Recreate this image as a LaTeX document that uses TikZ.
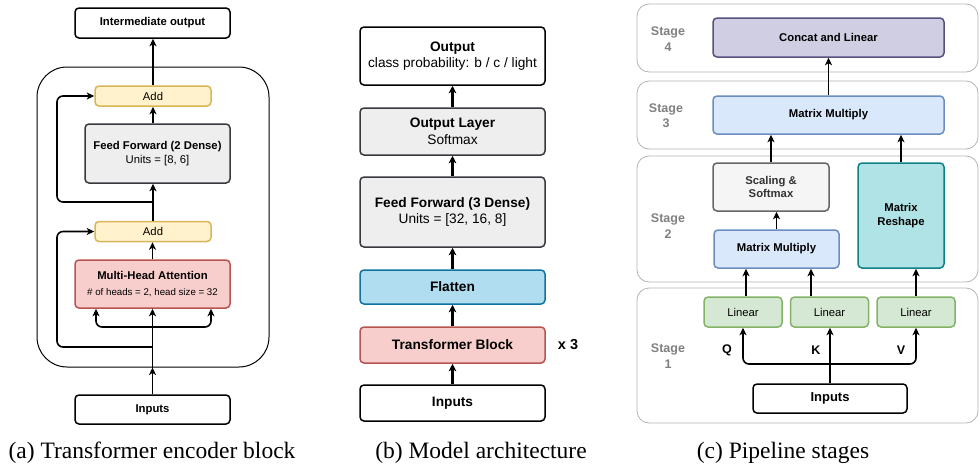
\documentclass[tikz,border=0pt]{standalone}
\usepackage{fontspec}
\setmainfont{Liberation Serif}
\setsansfont{Liberation Sans}
\usetikzlibrary{arrows.meta,calc}

\definecolor{addfill}{HTML}{FFF2CC}
\definecolor{adddraw}{HTML}{D6B656}
\definecolor{redfill}{HTML}{F8CECC}
\definecolor{reddraw}{HTML}{B85450}
\definecolor{grayfill}{HTML}{EEEEEE}
\definecolor{graydraw}{HTML}{36393D}
\definecolor{bluefill}{HTML}{B1DDF0}
\definecolor{bluedraw}{HTML}{10739E}
\definecolor{mmfill}{HTML}{DAE8FC}
\definecolor{mmdraw}{HTML}{6C8EBF}
\definecolor{purfill}{HTML}{D0CEE2}
\definecolor{purdraw}{HTML}{56517E}
\definecolor{softfill}{HTML}{F5F5F5}
\definecolor{softdraw}{HTML}{666666}
\definecolor{tealfill}{HTML}{B0E3E6}
\definecolor{tealdraw}{HTML}{0E8088}
\definecolor{linfill}{HTML}{D5E8D4}
\definecolor{lindraw}{HTML}{82B366}
\definecolor{stagedraw}{HTML}{B3B3B3}
\definecolor{stagetext}{HTML}{808080}

\tikzset{
  box/.style={draw, rounded corners=4pt, line width=1.5pt, align=center, inner sep=0pt},
  fa/.style={font=\sffamily\fontsize{11.3}{14.5}\selectfont},
  fb/.style={font=\sffamily\fontsize{13.7}{16.5}\selectfont},
  fc/.style={font=\sffamily\fontsize{11.3}{13.3}\selectfont},
  arr/.style={line width=1.6pt, -{Stealth[length=7.5pt,width=7pt,inset=2pt]}},
  arrb/.style={line width=2.2pt, -{Stealth[length=7.5pt,width=7.5pt,inset=2pt]}},
  stageband/.style={draw=stagedraw, line width=0.8pt, rounded corners=12pt, inner sep=0pt},
  stagelabel/.style={align=center, text=stagetext, font=\sffamily\bfseries\fontsize{12.5}{15.5}\selectfont},
  caption/.style={font=\rmfamily\fontsize{23.5}{26}\selectfont}
}

\begin{document}
\begin{tikzpicture}[x=1pt, y=-1pt]
    \useasboundingbox (0,0) rectangle (980,466);

    % (a) Transformer encoder block
    \node[draw, line width=1pt, rounded corners=30pt, minimum width=232, minimum height=300] (encA) at (153,217) {};
    \node[box, fa, fill=white, minimum width=155, minimum height=30] (outA) at (152.5,23) {\textbf{Intermediate output}};
    \node[box, fa, fill=addfill, draw=adddraw, minimum width=116, minimum height=20] (add2) at (153,96) {Add};
    \node[box, fa, fill=grayfill, draw=graydraw, minimum width=145, minimum height=59] (ffA) at (157.5,153.5) {\textbf{Feed Forward (2 Dense)}\\Units = [8, 6]};
    \node[box, fa, fill=addfill, draw=adddraw, minimum width=116, minimum height=20] (add1) at (153,231.5) {Add};
    \node[box, fa, fill=redfill, draw=reddraw, minimum width=155, minimum height=48] (mha) at (152.5,284) {\textbf{Multi-Head Attention}\\[1pt]{\fontsize{9.7}{12}\selectfont \# of heads = 2, head size = 32}};
    \node[box, fa, fill=white, minimum width=155, minimum height=29] (inA) at (152.5,409.5) {\textbf{Inputs}};

    \coordinate (splitA) at (152.5,327);
    \coordinate (resA1) at (152.5,347);
    \coordinate (resA2) at (152.5,202);
    \draw[arr] (inA.north) -- (inA.north |- encA.south);
    \draw[arr] (inA.north |- encA.south) -- (mha.south);
    \draw[arr, rounded corners=6pt] (splitA) -| ([xshift=-56.5pt]mha.south);
    \draw[arr, rounded corners=6pt] (splitA) -| ([xshift=58.5pt]mha.south);
    \draw[arr, rounded corners=6pt] (resA1) -- ++(-95.5,0) |- (add1.west);
    \draw[arr] (mha.north) -- (mha.north |- add1.south);
    \draw[arr] (add1.north) -- (add1.north |- ffA.south);
    \draw[arr, rounded corners=6pt] (resA2) -- ++(-95.5,0) |- (add2.west);
    \draw[arr] (add2.south |- ffA.north) -- (add2.south);
    \draw[arr] (add2.north) -- (add2.north |- outA.south);

    \node[caption] (capA) at (152,453) {(a) Transformer encoder block};

    % (b) Model architecture
    \node[box, fb, fill=white, minimum width=185, minimum height=58] (outB) at (452.5,56) {\textbf{Output}\\class probability: b / c / light};
    \node[box, fb, fill=grayfill, draw=graydraw, minimum width=185, minimum height=47] (olB) at (452.5,131.5) {\textbf{Output Layer}\\Softmax};
    \node[box, fb, fill=grayfill, draw=graydraw, minimum width=185, minimum height=70] (ffB) at (452.5,212) {\textbf{Feed Forward (3 Dense)}\\Units = [32, 16, 8]};
    \node[box, fb, fill=bluefill, draw=bluedraw, minimum width=185, minimum height=34] (flB) at (452.5,287) {\textbf{Flatten}};
    \node[box, fb, fill=redfill, draw=reddraw, minimum width=185, minimum height=36] (tbB) at (452.5,345) {\textbf{Transformer Block}};
    \node[box, fb, fill=white, minimum width=185, minimum height=36] (inB) at (452.5,403) {\textbf{Inputs}};
    \node[fb, font=\sffamily\bfseries\fontsize{14.5}{16}\selectfont] (repB) at (568,345) {x 3};

    \draw[arrb] (inB) -- (tbB);
    \draw[arrb] (tbB) -- (flB);
    \draw[arrb] (flB) -- (ffB);
    \draw[arrb] (ffB) -- (olB);
    \draw[arrb] (olB) -- (outB);

    \node[caption] (capB) at (481,453) {(b) Model architecture};

    % (c) Pipeline stages
    \node[stageband, minimum width=341, minimum height=68] (st4) at (807.5,38) {};
    \node[stageband, minimum width=341, minimum height=68] (st3) at (807.5,115) {};
    \node[stageband, minimum width=341, minimum height=126] (st2) at (807.5,219) {};
    \node[stageband, minimum width=341, minimum height=135] (st1) at (807.5,355.5) {};
    \node[stagelabel] (lab4) at (668,39) {Stage\\4};
    \node[stagelabel] (lab3) at (666,115.5) {Stage\\3};
    \node[stagelabel] (lab2) at (668,226) {Stage\\2};
    \node[stagelabel] (lab1) at (668,356) {Stage\\1};

    \node[box, fc, fill=purfill, draw=purdraw, minimum width=231, minimum height=39] (concat) at (828.5,37.5) {\textbf{Concat and Linear}};
    \node[box, fc, fill=mmfill, draw=mmdraw, minimum width=231, minimum height=38] (mm3) at (828.5,115) {\textbf{Matrix Multiply}};
    \node[box, fc, fill=softfill, draw=softdraw, text=black!80, minimum width=116, minimum height=48] (scale) at (771,187) {\textbf{Scaling \&}\\\textbf{Softmax}};
    \node[box, fc, fill=tealfill, draw=tealdraw, minimum width=86, minimum height=105] (reshape) at (901,215.5) {\textbf{Matrix}\\\textbf{Reshape}};
    \node[box, fc, fill=mmfill, draw=mmdraw, minimum width=125, minimum height=38] (mm2) at (776.5,249) {\textbf{Matrix Multiply}};
    \node[box, fc, fill=linfill, draw=lindraw, minimum width=78, minimum height=30] (lin1) at (743,312) {Linear};
    \node[box, fc, fill=linfill, draw=lindraw, minimum width=78, minimum height=30] (lin2) at (829.5,312) {Linear};
    \node[box, fc, fill=linfill, draw=lindraw, minimum width=78, minimum height=30] (lin3) at (916,312) {Linear};
    \node[box, fill=white, font=\sffamily\bfseries\fontsize{13}{15}\selectfont, minimum width=154, minimum height=29] (inC) at (830,398.5) {Inputs};
    \node[font=\sffamily\bfseries\fontsize{12.5}{15}\selectfont] (qlab) at (727,350) {Q};
    \node[font=\sffamily\bfseries\fontsize{12.5}{15}\selectfont] (klab) at (816,350) {K};
    \node[font=\sffamily\bfseries\fontsize{12.5}{15}\selectfont] (vlab) at (901,350) {V};

    \coordinate (splitC) at (830,364);
    \draw[arr] (inC.north) -- (inC.north |- lin2.south);
    \draw[arr, rounded corners=6pt] (splitC) -| (lin1.south);
    \draw[arr, rounded corners=6pt] (splitC) -| (lin3.south);
    \draw[arr] ([xshift=-30.5pt]mm2.south |- lin1.north) -- ([xshift=-30.5pt]mm2.south);
    \draw[arr] ([xshift=34.5pt]mm2.south |- lin2.north) -- ([xshift=34.5pt]mm2.south);
    \draw[arr] (lin3.north) -- (lin3.north |- reshape.south);
    \draw[arr] (mm2.north) -- (mm2.north |- scale.south);
    \draw[arr] (scale.north) -- (scale.north |- mm3.south);
    \draw[arr] (reshape.north) -- (reshape.north |- mm3.south);
    \draw[arr] (mm3.north) -- (mm3.north |- concat.south);

    \node[caption] (capC) at (783,453) {(c) Pipeline stages};
\end{tikzpicture}
\end{document}
